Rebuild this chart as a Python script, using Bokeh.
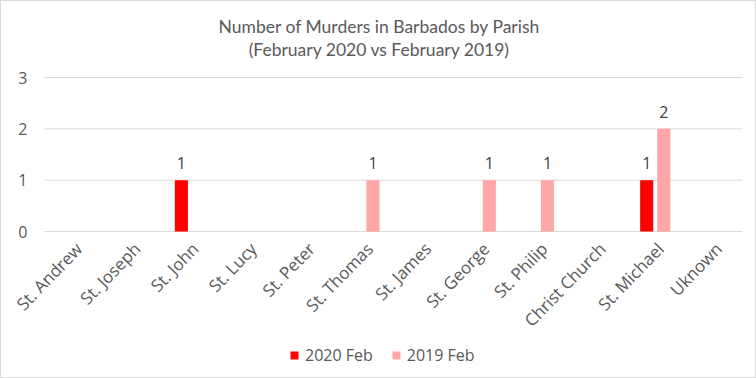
from math import pi, radians
from bokeh.plotting import figure
from bokeh.models import (Label, LabelSet, ColumnDataSource, Legend,
                          LegendItem, Range1d)
from bokeh.core.properties import value
from bokeh.embed import file_html
from bokeh.resources import INLINE

parishes = ["St. Andrew", "St. Joseph", "St. John", "St. Lucy", "St. Peter",
            "St. Thomas", "St. James", "St. George", "St. Philip",
            "Christ Church", "St. Michael", "Uknown"]
feb_2020 = [0, 0, 1, 0, 0, 0, 0, 0, 0, 0, 1, 0]
feb_2019 = [0, 0, 0, 0, 0, 1, 0, 1, 1, 0, 2, 0]
series_names = ["2020 Feb", "2019 Feb"]
y_ticks = [0, 1, 2, 3]
title_lines = ["Number of Murders in Barbados by Parish",
               "(February 2020 vs February 2019)"]

RED = "#FF0000"
PINK = "#FFA6A6"
TXT = "#595959"
GRID = "#D9D9D9"
FONT = value("Open Sans")
OFF = 0.147
BW = 0.225
CAT_PX = 58.17  # pixels per category

n = len(parishes)
centers = [i + 0.5 for i in range(n)]

p = figure(width=756, height=378,
           x_range=Range1d(-43 / CAT_PX, n + 15 / CAT_PX),
           y_range=Range1d(-2.883, 4.4805), output_backend="svg",
           toolbar_location=None, min_border=0)
p.outline_line_color = None
p.axis.visible = False
p.grid.visible = False
p.styles = {"border": "1px solid #D9D9D9", "box-sizing": "border-box"}

# horizontal gridlines
p.segment(x0=[0] * len(y_ticks), x1=[n] * len(y_ticks), y0=y_ticks,
          y1=y_ticks, line_color=GRID, line_width=1)

src = ColumnDataSource(dict(parish=parishes, x=centers, zero=[0] * n))
r1 = p.vbar(x=[c - OFF for c in centers], top=feb_2020, width=BW,
            fill_color=RED, line_color=None)
r2 = p.vbar(x=[c + OFF for c in centers], top=feb_2019, width=BW,
            fill_color=PINK, line_color=None)

# data labels for non-zero values
for vals, off in ((feb_2020, -OFF), (feb_2019, OFF)):
    s = ColumnDataSource(dict(x=[c + off for c, v in zip(centers, vals) if v],
                              v=[v for v in vals if v],
                              t=[str(v) for v in vals if v]))
    p.add_layout(LabelSet(x="x", y="v", text="t", source=s,
                          text_align="center", text_baseline="bottom",
                          y_offset=11, text_font=FONT,
                          text_font_size="16px", text_color="#404040"))

# category labels (rotated)
p.add_layout(LabelSet(x="x", y="zero", text="parish", source=src,
                      angle=radians(46), text_align="right",
                      text_baseline="top", x_offset=-3, y_offset=-6,
                      text_font=FONT, text_font_size="17px",
                      text_color=TXT))

# y tick labels
ysrc = ColumnDataSource(dict(y=y_ticks, t=[str(t) for t in y_ticks],
                             x=[-17 / CAT_PX] * len(y_ticks)))
p.add_layout(LabelSet(x="x", y="y", text="t", source=ysrc,
                      text_align="right", text_baseline="middle",
                      text_font=FONT, text_font_size="16px",
                      text_color=TXT))

# title
for txt, yy in zip(title_lines, (4.0, 3.55)):
    p.add_layout(Label(x=(378 - 43) / CAT_PX, y=yy, text=txt,
                       text_align="center", text_baseline="middle",
                       text_font="Lato", text_font_size="17.5px",
                       text_color=TXT))

legend = Legend(items=[LegendItem(label=series_names[0], renderers=[r1]),
                       LegendItem(label=series_names[1], renderers=[r2])],
                orientation="horizontal", location=(288, 13),
                border_line_color=None, background_fill_alpha=0,
                padding=0, margin=0, spacing=18, label_standoff=6,
                glyph_width=10, glyph_height=10, label_height=20,
                label_text_font="Open Sans", label_text_font_size="16px",
                label_text_color=TXT)
p.add_layout(legend)

open("out.html", "w").write(file_html(p, INLINE))
